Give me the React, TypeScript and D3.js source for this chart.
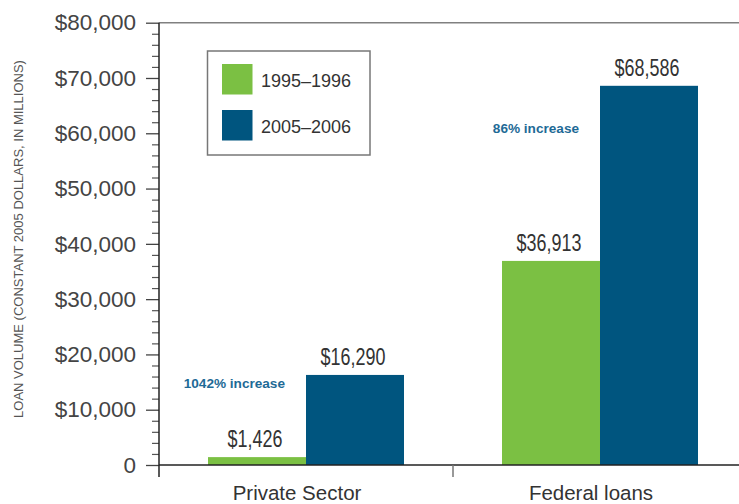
import React, { useRef, useEffect } from "react";
import * as d3 from "d3";

// data
const categories = ["Private Sector", "Federal loans"];
const periods = ["1995–1996", "2005–2006"];
const values1995 = [1426, 36913];
const values2005 = [16290, 68586];
const increaseLabels = ["1042% increase", "86% increase"];
const increaseAt = [14000, 60000]; // where the note sits, in dollars
const yTickValues = [0, 10000, 20000, 30000, 40000, 50000, 60000, 70000, 80000];
const yMinorStep = 2000;

const colors = ["#7bc043", "#00557f"];

const App = () => {
  const svgRef = useRef(null);

  useEffect(() => {
    const svg = d3.select(svgRef.current);
    svg.selectAll("*").remove();

    const width = 739;
    const height = 504;
    const left = 159;
    const top = 22.7;
    const bottom = 465;

    const sans = "'Liberation Sans', Arial, sans-serif";

    svg.attr("width", width).attr("height", height);

    const y = d3.scaleLinear().domain([0, 80000]).range([bottom, top]);

    const x0 = d3
      .scaleBand()
      .domain(categories)
      .range([left, left + 2 * 294])
      .paddingInner(1 / 3)
      .paddingOuter(1 / 6);

    const x1 = d3.scaleBand().domain(periods).range([0, x0.bandwidth()]).padding(0);

    const series = [values1995, values2005];

    // top frame line
    svg
      .append("line")
      .attr("x1", left)
      .attr("x2", width)
      .attr("y1", y(80000))
      .attr("y2", y(80000))
      .attr("stroke", "#808080")
      .attr("stroke-width", 1.5);

    // minor ticks
    const minor = d3.range(0, 80001, yMinorStep).filter((v) => !yTickValues.includes(v));
    svg
      .append("g")
      .attr("transform", `translate(${left},0)`)
      .call(d3.axisLeft(y).tickValues(minor).tickSize(7).tickFormat(() => ""))
      .call((g) => g.select(".domain").remove())
      .call((g) => g.selectAll("line").attr("stroke", "#555").attr("stroke-width", 1.2));

    // major ticks + labels
    svg
      .append("g")
      .attr("transform", `translate(${left},0)`)
      .call(
        d3
          .axisLeft(y)
          .tickValues(yTickValues)
          .tickSize(13)
          .tickPadding(10)
          .tickFormat((d) => (d === 0 ? "0" : "$" + d3.format(",")(d)))
      )
      .call((g) => g.select(".domain").remove())
      .call((g) => g.selectAll("line").attr("stroke", "#444").attr("stroke-width", 1.3))
      .call((g) =>
        g
          .selectAll("text")
          .attr("font-family", sans)
          .attr("font-size", 22.5)
          .attr("fill", "#444")
      );

    // bars
    categories.forEach((cat, ci) => {
      periods.forEach((p, pi) => {
        const v = series[pi][ci];
        const bx = x0(cat) + x1(p);
        svg
          .append("rect")
          .attr("x", bx)
          .attr("y", y(v))
          .attr("width", x1.bandwidth())
          .attr("height", y(0) - y(v))
          .attr("fill", colors[pi]);
        // condensed look: squeeze the glyphs horizontally
        svg
          .append("text")
          .attr(
            "transform",
            `translate(${bx + x1.bandwidth() / 2 - 2},${y(v) - 10}) scale(0.78,1)`
          )
          .attr("text-anchor", "middle")
          .attr("font-family", sans)
          .attr("font-size", 23)
          .attr("fill", "#333")
          .text("$" + d3.format(",")(v));
      });

      // increase note
      svg
        .append("text")
        .attr("x", x0(cat) + x1(periods[1]) - 21)
        .attr("y", y(increaseAt[ci]))
        .attr("text-anchor", "end")
        .attr("font-family", sans)
        .attr("font-weight", "bold")
        .attr("font-size", 13.6)
        .attr("fill", "#1e6a96")
        .text(increaseLabels[ci]);

      // category label
      svg
        .append("text")
        .attr("x", x0(cat) + x0.bandwidth() / 2 - 9)
        .attr("y", 500)
        .attr("text-anchor", "middle")
        .attr("font-family", sans)
        .attr("font-size", 20.5)
        .attr("fill", "#333")
        .text(cat);
    });

    // x axis line
    svg
      .append("line")
      .attr("x1", left)
      .attr("x2", width)
      .attr("y1", y(0))
      .attr("y2", y(0))
      .attr("stroke", "#222")
      .attr("stroke-width", 1.5);

    // category divider ticks
    const step = x0.step();
    categories.slice(1).forEach((cat) => {
      const bx = x0(cat) - (step - x0.bandwidth()) / 2;
      svg
        .append("line")
        .attr("x1", bx)
        .attr("x2", bx)
        .attr("y1", y(0))
        .attr("y2", y(0) + 12)
        .attr("stroke", "#777")
        .attr("stroke-width", 1.5);
    });

    // y axis line
    svg
      .append("line")
      .attr("x1", left)
      .attr("x2", left)
      .attr("y1", y(80000))
      .attr("y2", y(0) + 12)
      .attr("stroke", "#222")
      .attr("stroke-width", 1.5);

    // y title
    svg
      .append("text")
      .attr("transform", `translate(23,239) rotate(-90)`)
      .attr("text-anchor", "middle")
      .attr("font-family", sans)
      .attr("font-size", 13)
      .attr("fill", "#555")
      .text("LOAN VOLUME (CONSTANT 2005 DOLLARS, IN MILLIONS)");

    // legend
    const legend = svg.append("g");
    legend
      .append("rect")
      .attr("x", 207.5)
      .attr("y", 51)
      .attr("width", 162.5)
      .attr("height", 104)
      .attr("fill", "none")
      .attr("stroke", "#777")
      .attr("stroke-width", 1.5);
    periods.forEach((p, i) => {
      legend
        .append("rect")
        .attr("x", 222)
        .attr("y", 64 + i * 46)
        .attr("width", 30.5)
        .attr("height", 30.5)
        .attr("fill", colors[i]);
      legend
        .append("text")
        .attr("x", 261)
        .attr("y", 86.5 + i * 46)
        .attr("font-family", sans)
        .attr("font-size", 18)
        .attr("fill", "#333")
        .text(p);
    });
  }, []);

  return <svg ref={svgRef} style={{ position: "absolute", left: 0, top: 0 }}></svg>;
};

export default App;
